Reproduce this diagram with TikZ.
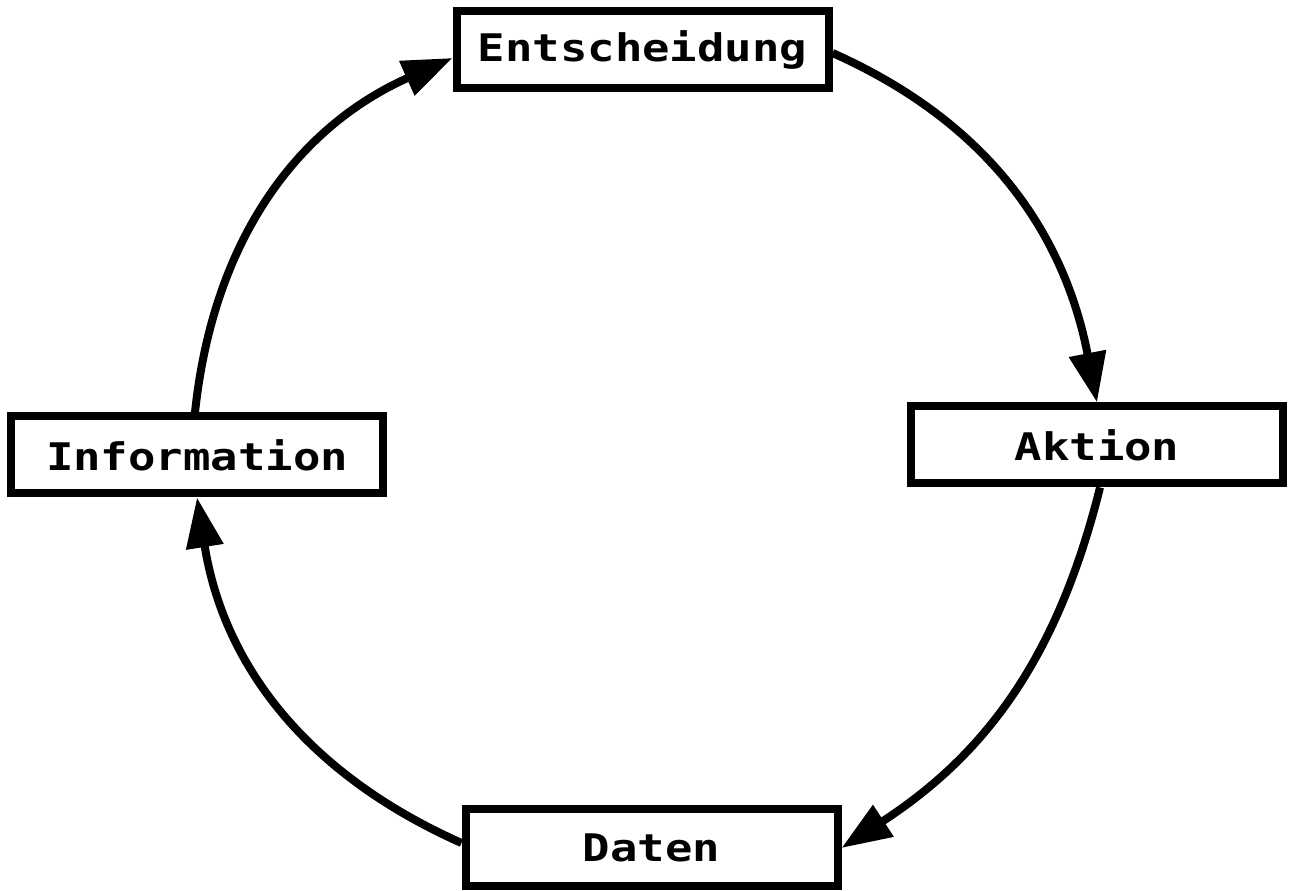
\documentclass[tikz,border=0pt]{standalone}
\usepackage{fontspec}
\newfontfamily\dotfont[FakeStretch=1.2]{DejaVu Sans Mono}
\usetikzlibrary{arrows.meta,calc}
\begin{document}
\begin{tikzpicture}[x=1pt,y=1pt,
  box/.style={draw, line width=8pt, minimum width=372pt, minimum height=77pt,
    inner sep=0pt, font=\dotfont\bfseries\fontsize{38}{40}\selectfont},
  flow/.style={line width=8pt, -{Triangle[length=50pt,width=36pt]}}]
\useasboundingbox (0,0) rectangle (1290,891);
\node[box] (ent)  at (642.5,841) {Entscheidung};
\node[box] (info) at (197,436) {Information};
\node[box] (akt)  at (1097,446) {Aktion};
\node[box] (dat)  at (651.5,43) {Daten};
\draw[flow] ($(info.north)+(-2,0)$) to[out=84,in=204] ($(ent.west)+(0,-8)$);
\draw[flow] ($(ent.east)+(0,-3)$) to[out=-24,in=101] (akt.north);
\draw[flow] ($(akt.south)+(3,0)$) to[out=256,in=33] (dat.east);
\draw[flow] ($(dat.west)+(0,5)$) to[out=156,in=-81] (info.south);
\end{tikzpicture}
\end{document}
